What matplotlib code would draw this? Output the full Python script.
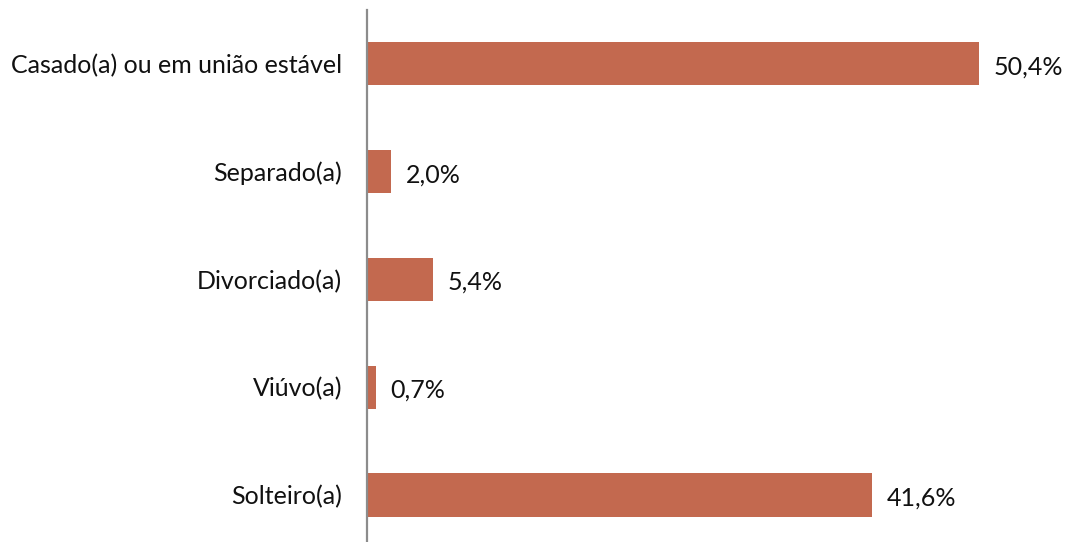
import matplotlib.pyplot as plt

categorias = ["Solteiro(a)", "Viúvo(a)", "Divorciado(a)", "Separado(a)", "Casado(a) ou em união estável"]
valores = [41.6, 0.7, 5.4, 2.0, 50.4]
rotulos = ["41,6%", "0,7%", "5,4%", "2,0%", "50,4%"]

plt.rcParams['font.family'] = ['Lato', 'DejaVu Sans']

fig = plt.figure(figsize=(10.68, 5.42), dpi=100)
# posição do eixo em pixels: esquerda 367, topo 9.5
ax = fig.add_axes([367 / 1068, 0, (1047 - 367) / 1068, (542 - 9.5) / 542])

y = range(len(categorias))
ax.barh(y, valores, height=0.4, color='#C3694F')
ax.set_xlim(0, 56)
ax.set_ylim(-0.5 + 7 / 108, 4.5)

for i, (v, r) in enumerate(zip(valores, rotulos)):
    ax.text(v + 1.2, i - 0.03, r, va='center', ha='left', fontsize=18, color='#111111')

ax.set_yticks(list(y))
ax.set_yticklabels(categorias, fontsize=18, color='#111111')
ax.tick_params(axis='y', length=0, pad=18)
ax.set_xticks([])

for s in ['top', 'right', 'bottom']:
    ax.spines[s].set_visible(False)
ax.spines['left'].set_color('#8C8C8C')
ax.spines['left'].set_linewidth(1.6)

fig.savefig('out.png', dpi=100)
